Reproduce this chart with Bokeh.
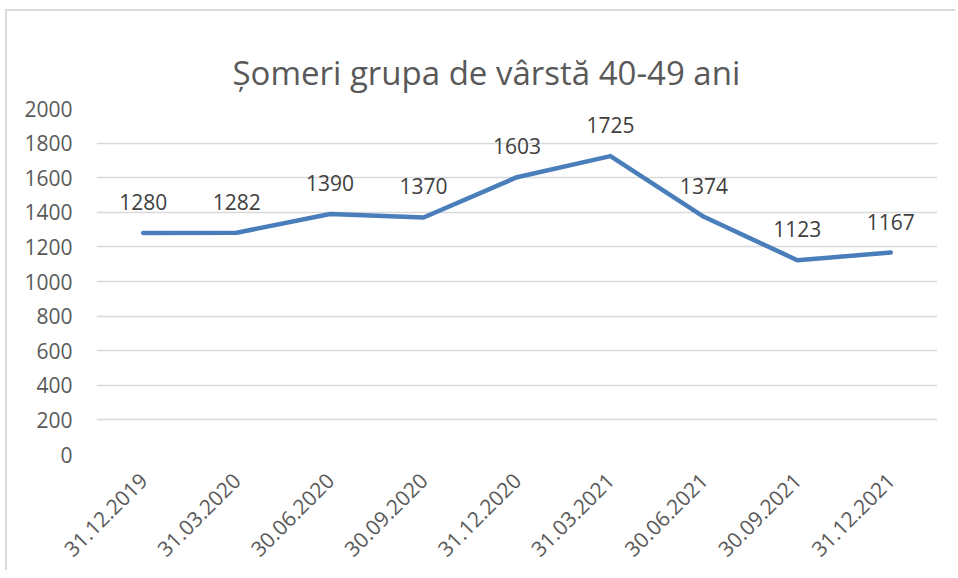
import math
from bokeh.plotting import figure
from bokeh.models import ColumnDataSource, Range1d, FactorRange, Title
from bokeh.embed import file_html
from bokeh.resources import INLINE

categories = ["31.12.2019", "31.03.2020", "30.06.2020", "30.09.2020", "31.12.2020",
              "31.03.2021", "30.06.2021", "30.09.2021", "31.12.2021"]
values = [1280, 1282, 1390, 1370, 1603, 1725, 1374, 1123, 1167]
labels = [str(v) for v in values]
y_ticks = list(range(0, 2001, 200))
title_text = "Șomeri grupa de vârstă  40-49 ani"

src = ColumnDataSource(dict(x=categories, y=values, label=labels))

FONT = "Open Sans"
p = figure(width=950, height=561, output_backend="svg", toolbar_location=None,
           x_range=FactorRange(factors=categories, range_padding=0),
           y_range=Range1d(0, 2000),
           min_border_left=89, min_border_right=20, min_border_bottom=118, min_border_top=97)
p.styles = {"border-left": "2px solid #d9d9d9", "border-top": "2px solid #d9d9d9",
            "margin-left": "5px", "margin-top": "9px"}

# the plot's own title is an invisible spacer next to the plot area
p.title = Title(text=" ", text_font_size="12px", standoff=5, text_alpha=0)

# the visible chart title, stacked above the spacer
p.add_layout(Title(text=title_text, align="left", offset=136, text_font=FONT,
                   text_font_size="33px", text_font_style="normal", text_color="#595959",
                   standoff=28), "above")

p.outline_line_color = None
p.background_fill_color = "white"
p.border_fill_color = "white"

p.line("x", "y", source=src, line_color="#4A7EBB", line_width=4.5, line_join="round", line_cap="round")
p.text("x", "y", text="label", source=src, y_offset=-31, text_align="center", text_baseline="middle",
       text_font_size="21px", text_color="#404040", text_font={"value": FONT})

p.yaxis.ticker = y_ticks
p.ygrid.ticker = y_ticks
p.ygrid.grid_line_color = "#d9d9d9"
p.ygrid.grid_line_width = 1.5
p.xgrid.grid_line_color = None

for ax in (p.xaxis, p.yaxis):
    ax.axis_line_color = None
    ax.major_tick_line_color = None
    ax.minor_tick_line_color = None
    ax.major_tick_out = 0
    ax.major_tick_in = 0
    ax.minor_tick_out = 0
    ax.major_label_text_font = FONT
    ax.major_label_text_font_size = "21px"
    ax.major_label_text_color = "#595959"

p.yaxis.major_label_standoff = 24
p.xaxis.major_label_orientation = math.pi / 4
p.xaxis.major_label_standoff = 22

open("out.html", "w").write(file_html(p, INLINE))
